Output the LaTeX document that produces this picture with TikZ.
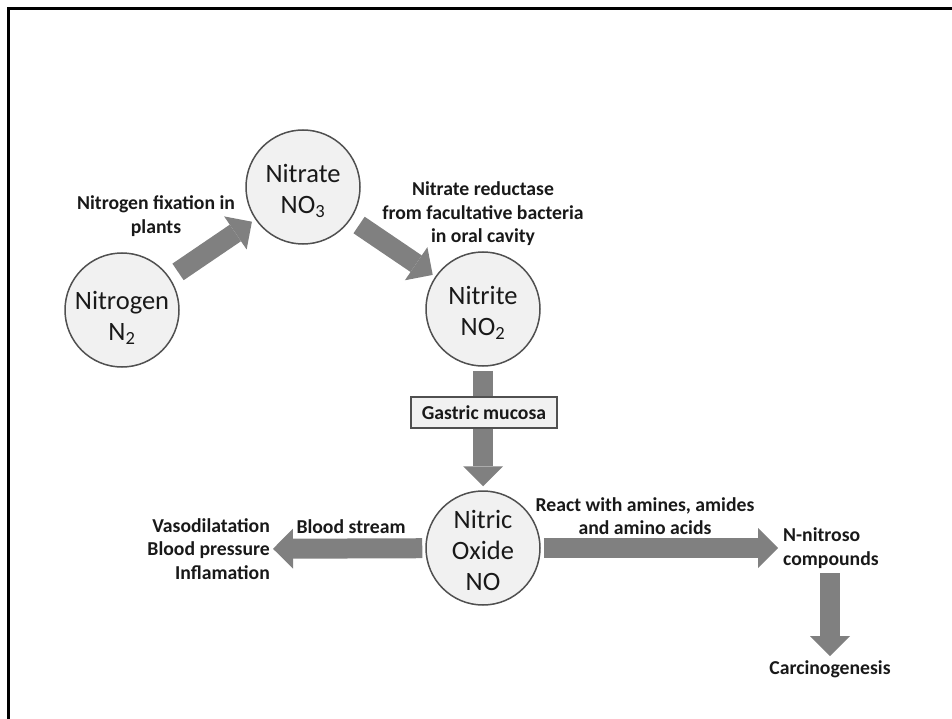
\documentclass[tikz,border=0pt]{standalone}
\usepackage{fontspec}
\setmainfont{Carlito}
\usetikzlibrary{arrows.meta}
\definecolor{arrowgray}{RGB}{128,128,128}
\definecolor{circfill}{RGB}{241,241,241}
\definecolor{edgegray}{RGB}{80,80,80}
\definecolor{txt}{RGB}{25,25,25}
\begin{document}
\begin{tikzpicture}[x=1pt,y=-1pt,
  chem/.style={circle, draw=edgegray, fill=circfill, line width=1.5pt, minimum size=114pt, inner sep=0pt},
  chemtxt/.style={align=center, inner sep=0pt, font=\fontsize{26.5}{31}\selectfont, text=txt},
  lab/.style={font=\bfseries\fontsize{19.7}{23.5}\selectfont, align=center, inner sep=0pt, text=txt},
  boxlab/.style={draw=edgegray, fill=circfill, line width=1.2pt, minimum width=146pt, minimum height=31pt, inner sep=0pt, font=\bfseries\fontsize{19.7}{23.5}\selectfont, text=txt},
  fat/.style={draw=arrowgray, line width=20pt, -{Triangle[width=40pt,length=20pt,line width=0pt]}},
]
\useasboundingbox (0,0) rectangle (952,719);
\draw[line width=3pt] (8.5,719) -- (8.5,8.5) -- (952,8.5);

\node[chem] (n2) at (122,310) {};
\node[chem] (no3) at (303,187) {};
\node[chem] (no2) at (483,309) {};
\node[chem] (no) at (483,548) {};
\node[chemtxt] (n2t) at (122,318) {Nitrogen\\N\textsubscript{2}};
\node[chemtxt] (no3t) at (303,191) {Nitrate\\NO\textsubscript{3}};
\node[chemtxt] (no2t) at (483,313) {Nitrite\\NO\textsubscript{2}};
\node[chemtxt] (not) at (483,550) {Nitric\\Oxide\\NO};

\node[lab] (fix) at (156,216) {Nitrogen fixation in\\plants};
\node[lab] (red) at (483,214) {Nitrate reductase\\from facultative bacteria\\in oral cavity};
\node[lab, anchor=east, align=right] (eff) at (270,549) {Vasodilatation\\Blood pressure\\Inflamation};
\node[lab] (bs) at (351,527) {Blood stream};
\node[lab] (react) at (645,516) {React with amines, amides\\and amino acids};
\node[lab, anchor=west, align=left] (nnc) at (783,548) {N-nitroso\\compounds};
\node[lab] (carc) at (830,669) {Carcinogenesis};

\draw[fat, shorten <=10pt, shorten >=4pt] (n2) -- (no3);
\draw[fat, shorten <=10pt, shorten >=3pt] (no3) -- (no2);
\draw[fat, shorten <=4pt, shorten >=4pt] (no2) -- (no);
\draw[fat, shorten <=3pt, shorten >=3pt] (no) -- (eff);
\draw[fat, shorten <=3pt, shorten >=5pt] (no) -- (nnc);
\draw[fat, shorten <=5pt, shorten >=4pt] (nnc.south -| carc) -- (carc.north);

\node[boxlab] (gm) at (484,412.5) {Gastric mucosa};
\end{tikzpicture}
\end{document}
